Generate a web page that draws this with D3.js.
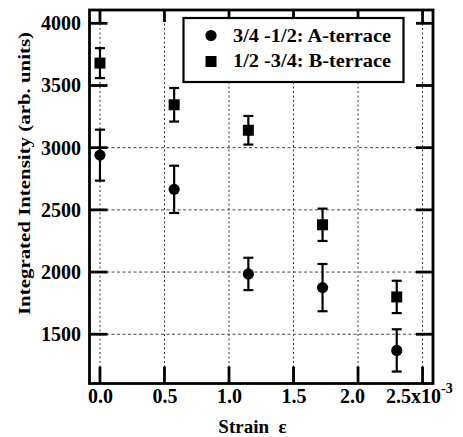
<!DOCTYPE html>
<html>
<head>
<meta charset="utf-8">
<script src="https://cdn.jsdelivr.net/npm/d3@7"></script>
<style>
  html, body { margin: 0; padding: 0; background: #fff; }
  svg text { font-family: "Liberation Serif", "Times New Roman", serif; font-weight: 700; fill: #000; }
</style>
</head>
<body>
<svg id="chart" width="463" height="437"></svg>
<script>
// ---- data (strain in units of 1e-3) ----
const strainA = [0.0, 0.575, 1.15, 1.725, 2.3];
const intensityA = [2940, 2665, 1985, 1875, 1370];
const errorA = [205, 190, 130, 190, 170];

const strainB = [0.0, 0.575, 1.15, 1.725, 2.3];
const intensityB = [3680, 3345, 3140, 2380, 1800];
const errorB = [120, 135, 115, 130, 130];

const xTicks = [0.0, 0.5, 1.0, 1.5, 2.0, 2.5];
const xTickLabels = ["0.0", "0.5", "1.0", "1.5", "2.0", "2.5"];
const yTicks = [1500, 2000, 2500, 3000, 3500, 4000];
const yGrid = [1500, 2000, 2500, 3000];
const legendLabels = ["3/4 -1/2: A-terrace", "1/2 -3/4: B-terrace"];

const svg = d3.select("#chart");
const L = 89.5, R = 433, T = 10, B = 383.5;

const x = d3.scaleLinear().domain([-0.081, 2.581]).range([L, R]);
const y = d3.scaleLinear().domain([1104, 4107]).range([B, T]);

// grid
const grid = svg.append("g");
grid.selectAll("line.v").data(xTicks).enter().append("line").attr("class", "v")
  .attr("x1", d => x(d)).attr("x2", d => x(d)).attr("y1", T).attr("y2", B)
  .attr("stroke", "#333").attr("stroke-width", 1).attr("stroke-dasharray", "2,2.5");
grid.selectAll("line.h").data(yGrid).enter().append("line").attr("class", "h")
  .attr("x1", L).attr("x2", R).attr("y1", d => y(d)).attr("y2", d => y(d))
  .attr("stroke", "#444").attr("stroke-width", 1).attr("stroke-dasharray", "3,2.5");

// inward tick marks on all four sides
const tk = svg.append("g").attr("stroke", "#000").attr("stroke-width", 2.8);
tk.selectAll("line.tb").data(xTicks).enter().append("line").attr("class", "tb")
  .attr("x1", d => x(d)).attr("x2", d => x(d)).attr("y1", B).attr("y2", B - 17);
tk.selectAll("line.tt").data(xTicks).enter().append("line").attr("class", "tt")
  .attr("x1", d => x(d)).attr("x2", d => x(d)).attr("y1", T).attr("y2", T + 12);
tk.selectAll("line.tl").data(yTicks).enter().append("line").attr("class", "tl")
  .attr("x1", L).attr("x2", L + 18).attr("y1", d => y(d)).attr("y2", d => y(d));
tk.selectAll("line.tr").data(yTicks).enter().append("line").attr("class", "tr")
  .attr("x1", R).attr("x2", R - 17).attr("y1", d => y(d)).attr("y2", d => y(d));

// axis labels
const labStyle = g => {
  g.select(".domain").remove();
  g.selectAll(".tick line").remove();
  g.attr("font-family", null).attr("font-size", null);
  g.selectAll("text").style("font-size", "20px");
};
svg.append("g").attr("transform", `translate(0,${B})`)
  .call(d3.axisBottom(x).tickValues(xTicks).tickSize(0)
    .tickFormat((d, i) => xTickLabels[i]).tickPadding(5))
  .call(labStyle)
  .call(g => {
    const ticks = g.selectAll(".tick text");
    ticks.filter((d, i) => i === 4).attr("dx", -6);
    ticks.filter((d, i) => i === 5).text(null).attr("text-anchor", "start").attr("x", -37)
      .call(t => { t.append("tspan").text("2.5x10"); t.append("tspan").attr("dy", -10).style("font-size", "14px").text("-3"); });
  });
svg.append("g").attr("transform", `translate(${L},0)`)
  .call(d3.axisLeft(y).tickValues(yTicks).tickSize(0)
    .tickFormat(d3.format("d")).tickPadding(8.5))
  .call(labStyle);

// frame
svg.append("rect").attr("x", L).attr("y", T).attr("width", R - L).attr("height", B - T)
  .attr("fill", "none").attr("stroke", "#000").attr("stroke-width", 2.8);

// error bars + markers
function series(xs, ys, es, shape) {
  const g = svg.append("g");
  const data = xs.map((d, i) => ({ x: d, y: ys[i], e: es[i] }));
  const cap = 5;
  g.selectAll("line.eb").data(data).enter().append("line").attr("class", "eb")
    .attr("x1", d => x(d.x)).attr("x2", d => x(d.x))
    .attr("y1", d => y(d.y + d.e)).attr("y2", d => y(d.y - d.e))
    .attr("stroke", "#000").attr("stroke-width", 2.2);
  [1, -1].forEach((s, k) => {
    g.selectAll("line.cap" + k).data(data).enter().append("line").attr("class", "cap" + k)
      .attr("x1", d => x(d.x) - cap).attr("x2", d => x(d.x) + cap)
      .attr("y1", d => y(d.y + s * d.e))
      .attr("y2", d => y(d.y + s * d.e))
      .attr("stroke", "#000").attr("stroke-width", 2.2);
  });
  if (shape === "circle") {
    g.selectAll("circle").data(data).enter().append("circle")
      .attr("cx", d => x(d.x)).attr("cy", d => y(d.y)).attr("r", 5.6).attr("fill", "#000");
  } else {
    g.selectAll("rect").data(data).enter().append("rect")
      .attr("x", d => x(d.x) - 5.5).attr("y", d => y(d.y) - 5.5)
      .attr("width", 11).attr("height", 11).attr("fill", "#000");
  }
}
series(strainA, intensityA, errorA, "circle");
series(strainB, intensityB, errorB, "square");

// legend
const lg = svg.append("g");
lg.append("rect").attr("x", 183.5).attr("y", 18).attr("width", 220).attr("height", 64)
  .attr("fill", "#fff").attr("stroke", "#000").attr("stroke-width", 2.2);
lg.append("circle").attr("cx", 211).attr("cy", 35.5).attr("r", 5.6).attr("fill", "#000");
lg.append("rect").attr("x", 205.5).attr("y", 56).attr("width", 11).attr("height", 11).attr("fill", "#000");
lg.selectAll("text").data(legendLabels).enter().append("text")
  .attr("x", 233).attr("y", (d, i) => 41.5 + i * 25.5)
  .style("font-size", "18px").attr("textLength", 158).attr("lengthAdjust", "spacingAndGlyphs")
  .text(d => d);

// axis titles
svg.append("text").attr("transform", "translate(30,173.5) rotate(-90)")
  .attr("text-anchor", "middle").style("font-size", "17.5px")
  .attr("textLength", 283).attr("lengthAdjust", "spacingAndGlyphs")
  .text("Integrated Intensity (arb. units)");
svg.append("text").attr("x", 252.5).attr("y", 433).attr("text-anchor", "middle")
  .style("font-size", "19px").style("white-space", "pre").text("Strain  ε");
</script>
</body>
</html>
